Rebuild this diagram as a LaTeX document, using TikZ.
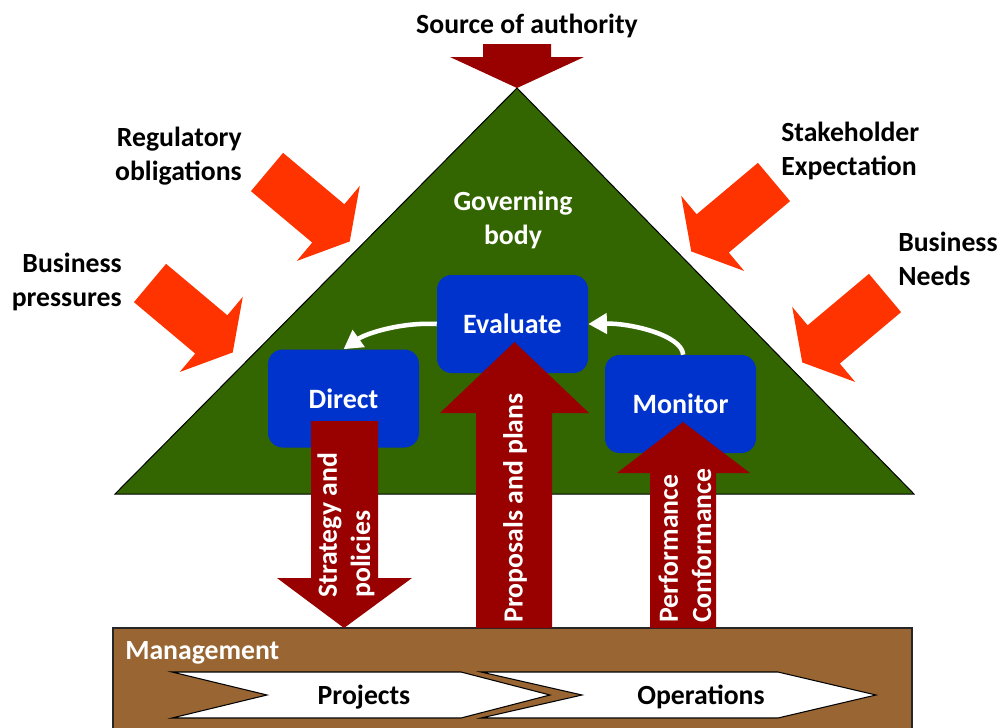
\documentclass[tikz,border=0pt]{standalone}
\usepackage{fontspec}
\setmainfont{Carlito}
\usetikzlibrary{arrows.meta}
\definecolor{govgreen}{HTML}{336600}
\definecolor{authred}{HTML}{990000}
\definecolor{procblue}{HTML}{0033CC}
\definecolor{pressorange}{HTML}{FF3300}
\definecolor{mgmtbrown}{HTML}{996633}
\tikzset{
  lbl/.style={font=\fontsize{20.8}{25}\selectfont\bfseries, inner sep=0pt},
  whitelbl/.style={lbl, text=white},
  procbox/.style={fill=procblue, rounded corners=11pt, minimum width=113.25pt, minimum height=73.5pt, text=white, inner sep=0pt, font=\fontsize{21}{25}\selectfont\bfseries},
  redblock/.style={fill=authred},
  pressure/.style={fill=pressorange},
  chevronbox/.style={fill=white, draw=black, line width=0.8pt},
  cycleflow/.style={draw=white, line width=3.4pt, -{Triangle[length=14pt,width=15pt]}},
}
\newcommand\pressurearrow[3]{\fill[pressure, shift={(#1,#2)}, rotate=#3] (0,-25) -- (80,-25) -- (80,-49) -- (108,0) -- (80,49) -- (80,25) -- (0,25) -- cycle;}
\begin{document}
\begin{tikzpicture}[x=0.75pt,y=-0.75pt]
\useasboundingbox (0,0) rectangle (1000,728);
% governing triangle
\draw[fill=govgreen, line width=0.75pt] (517,88) -- (115,494) -- (914,494) -- cycle;
% source of authority arrow
\fill[redblock] (483,44) -- (551,44) -- (551,57) -- (584,57) -- (517,88) -- (450,57) -- (483,57) -- cycle;
\node[lbl] (src) at (527,26) {Source of authority};
% pressure arrows
\pressurearrow{267}{172}{-40}
\pressurearrow{150}{283}{-40}
\pressurearrow{774}{182}{-140}
\pressurearrow{885}{293}{-140}
\node[lbl, anchor=east, align=right] (reg) at (242,156) {Regulatory\\obligations};
\node[lbl, anchor=east, align=right] (bpr) at (122,282) {Business\\pressures};
\node[lbl, anchor=west, align=left] (stk) at (781,151) {Stakeholder\\Expectation};
\node[lbl, anchor=west, align=left] (bnd) at (898,259) {Business\\Needs};
\node[whitelbl, align=center] (gov) at (513,220) {Governing\\body};
% management
\draw[fill=mgmtbrown, draw=black!85, line width=1pt] (113,628) rectangle (912,735);
\node[lbl, text=white, anchor=west] (mgmt) at (125,653) {Management};
\draw[chevronbox] (172,672) -- (461,672) -- (550,695) -- (461,718) -- (172,718) -- (267,695) -- cycle;
\draw[chevronbox] (481,672) -- (778,672) -- (876,695) -- (778,718) -- (481,718) -- (582,695) -- cycle;
\node[lbl] (proj) at (364,697) {Projects};
\node[lbl] (ops) at (701,697) {Operations};
% process boxes
\node[procbox] (ev) at (512.5,324) {Evaluate};
\node[procbox] (di) at (343.5,398.5) {Direct};
\node[procbox] (mo) at (680.5,404) {Monitor};
% red flow arrows
\fill[redblock] (311,421) -- (378,421) -- (378,578) -- (412,578) -- (344,628) -- (277,578) -- (311,578) -- cycle;
\fill[redblock] (476,628) -- (476,413) -- (440,413) -- (514.5,342) -- (589,413) -- (552,413) -- (552,628) -- cycle;
\fill[redblock] (650,628) -- (650,473) -- (617,473) -- (683,422) -- (750,473) -- (716,473) -- (716,628) -- cycle;
\node[whitelbl, rotate=90, anchor=west, align=left] (strat) at (346,598) {Strategy and\\policies};
\node[whitelbl, rotate=90] (prop) at (515,508) {Proposals and plans};
\node[whitelbl, rotate=90, anchor=west, align=left] (perf) at (685,623) {Performance\\Conformance};
% cycle arrows
\draw[cycleflow] (ev.west) .. controls (400,322) and (365,334) .. (di.north);
\draw[cycleflow] ([xshift=2pt]mo.north) .. controls (682,335) and (630,323) .. (ev.east);
\end{tikzpicture}
\end{document}
